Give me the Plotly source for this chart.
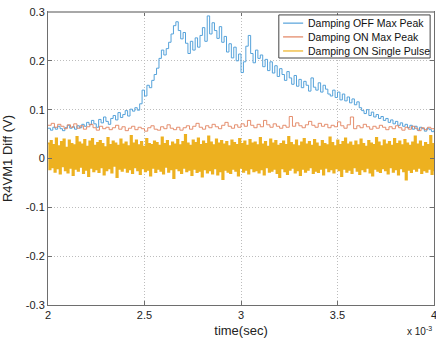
import numpy as np
import plotly.graph_objects as go

# time axis in units of 1e-3 s
t_start, t_end = 2.0, 4.0

damping_off_max_peak = [
    0.062,0.058,0.064,0.060,0.066,0.061,0.057,0.063,0.068,0.062,0.065,0.060,0.067,0.063,
    0.070,0.066,0.074,0.069,0.078,0.071,0.064,0.080,0.073,0.085,0.076,0.070,0.082,
    0.088,0.079,0.094,0.084,0.090,0.098,0.087,0.101,
    0.097,0.104,0.099,0.112,
    0.140,0.128,0.150,0.145,
    0.160,0.172,0.185,
    0.205,0.222,0.212,0.225,
    0.238,0.255,0.272,0.280,
    0.262,0.245,0.258,0.236,0.215,0.240,0.222,0.247,0.228,0.252,
    0.268,0.240,0.292,0.255,0.278,0.262,0.246,0.270,0.238,0.250,
    0.218,0.235,0.206,0.228,0.200,0.214,0.176,
    0.198,0.230,0.252,0.215,0.196,0.222,0.205,0.212,
    0.188,0.203,0.180,0.198,0.175,0.190,0.168,0.184,0.172,0.160,0.178,0.165,
    0.152,0.170,0.148,0.162,0.145,0.158,0.150,0.138,0.165,0.146,0.140,0.155,0.136,0.150,0.142,0.132,0.128,
    0.140,0.125,0.136,0.120,0.132,0.118,0.126,0.114,0.122,0.110,0.116,0.104,
    0.098,0.092,0.100,0.088,0.095,0.085,0.090,0.082,0.086,
    0.078,0.082,0.074,0.079,0.071,0.076,0.068,0.073,0.066,0.070,0.063,0.068,0.060,0.066,0.058,0.064,0.061,0.056,0.062,0.059,0.055,0.058,
]

damping_on_max_peak = [
    0.068,0.072,0.064,0.070,0.066,0.061,0.069,0.064,0.071,0.062,0.067,0.060,0.065,0.070,0.063,0.058,0.066,0.061,0.064,0.059,
    0.063,0.068,0.060,0.065,0.057,0.062,0.066,0.059,0.064,0.061,0.056,0.063,0.067,0.060,0.058,0.065,0.061,0.069,0.062,0.059,
    0.064,0.058,0.063,0.067,0.060,0.066,0.072,0.064,0.060,0.067,0.063,0.070,0.065,0.061,0.068,0.074,0.066,0.062,0.069,0.064,
    0.071,0.066,0.078,0.068,0.063,0.070,0.065,0.078,0.069,0.064,0.071,0.066,0.062,0.068,0.064,0.086,0.066,0.073,0.067,0.063,
    0.069,0.076,0.068,0.064,0.072,0.066,0.070,0.063,0.068,0.065,0.075,0.067,0.062,0.069,0.085,0.061,0.067,0.063,0.070,0.065,
    0.060,0.066,0.062,0.068,0.064,0.059,0.065,0.061,0.067,0.063,0.058,0.064,0.060,0.066,0.062,0.057,0.063,0.059,0.064,0.061,0.060,
]

damping_on_single_pulse = [
    0.031,-0.022,0.036,-0.018,0.028,-0.027,0.041,-0.020,0.025,-0.031,0.034,-0.016,0.039,-0.024,0.022,-0.029,0.037,-0.019,0.030,-0.034,
    0.027,-0.021,0.044,-0.025,0.033,-0.017,0.029,-0.030,0.038,-0.023,0.024,-0.036,0.035,-0.019,0.040,-0.026,0.026,-0.022,0.032,-0.028,
    0.036,-0.018,0.030,-0.033,0.023,-0.024,0.042,-0.020,0.028,-0.029,0.035,-0.015,0.031,-0.038,0.026,-0.021,0.039,-0.025,0.029,-0.019,
    0.033,-0.027,0.025,-0.022,0.046,-0.030,0.031,-0.018,0.037,-0.024,0.027,-0.032,0.034,-0.020,0.024,-0.026,0.040,-0.023,0.030,-0.035,
    0.028,-0.019,0.035,-0.028,0.032,-0.021,0.026,-0.025,0.043,-0.031,0.030,-0.017,0.036,-0.027,0.025,-0.022,0.033,-0.040,0.029,-0.020,
    0.038,-0.024,0.027,-0.030,0.034,-0.019,0.048,-0.026,0.031,-0.023,0.026,-0.034,0.037,-0.021,0.032,-0.028,0.041,-0.025,0.028,-0.037,
    0.035,-0.022,0.030,-0.029,0.045,-0.024,0.033,-0.031,0.027,-0.020,0.039,-0.033,0.031,-0.026,0.036,-0.042,0.029,-0.023,0.034,-0.027,
    0.025,-0.030,0.037,-0.021,0.032,-0.025,0.028,-0.035,0.040,-0.019,0.030,-0.027,0.035,-0.023,0.026,-0.031,0.038,-0.020,0.031,-0.026,
    0.033,-0.024,0.027,-0.029,0.042,-0.022,0.029,-0.033,0.034,-0.018,0.024,-0.027,0.039,-0.025,0.031,-0.021,0.036,-0.030,0.026,-0.038,
    0.030,-0.020,0.035,-0.026,0.028,-0.032,0.044,-0.023,0.032,-0.019,0.027,-0.029,0.037,-0.024,0.025,-0.034,0.033,-0.021,0.040,-0.027,
    0.029,-0.023,0.034,-0.018,0.026,-0.030,0.038,-0.025,0.031,-0.028,0.024,-0.021,0.036,-0.033,0.030,-0.019,0.027,-0.026,0.043,-0.022,
    0.032,-0.029,0.025,-0.020,0.037,-0.024,0.028,-0.036,0.034,-0.021,0.041,-0.027,0.029,-0.023,0.033,-0.030,0.026,-0.018,0.035,-0.025,
    0.027,-0.032,0.039,-0.022,0.030,-0.026,0.024,-0.019,0.036,-0.029,0.031,-0.035,0.028,-0.021,0.042,-0.025,0.033,-0.028,0.025,-0.020,
    0.037,-0.024,0.029,-0.031,0.034,-0.018,0.026,-0.027,0.040,-0.022,0.030,-0.033,0.035,-0.020,0.027,-0.026,0.038,-0.043,0.031,-0.023,
    0.026,-0.028,0.033,-0.021,0.045,-0.025,0.029,-0.019,0.035,-0.030,0.024,-0.024,0.032,-0.027,0.028,-0.021,0.046,-0.032,0.030,-0.026,
]

series_names = ["Damping OFF Max Peak", "Damping ON Max Peak", "Damping ON Single Pulse"]
x_ticks = [2, 2.5, 3, 3.5, 4]
x_tick_labels = ["2", "2.5", "3", "3.5", "4"]
y_ticks = [-0.3, -0.2, -0.1, 0, 0.1, 0.2, 0.3]
y_tick_labels = ["-0.3", "-0.2", "-0.1", "0", "0.1", "0.2", "0.3"]

colors = ["#55a2da", "#e2825f", "#edb120"]
widths = [1.0, 0.9, 1.9]

fig = go.Figure()
all_series = [damping_off_max_peak, damping_on_max_peak, damping_on_single_pulse]
for name, ys, c, w in zip(series_names, all_series, colors, widths):
    xs = np.linspace(t_start, t_end, len(ys))
    fig.add_trace(go.Scatter(
        x=xs, y=ys, mode="lines", name=name, showlegend=False,
        line=dict(color=c, width=w, shape="hv"),
    ))

font_family = "Liberation Sans, Arial, sans-serif"
axis_common = dict(
    showline=True, mirror="ticks", linecolor="#6e6e6e", linewidth=1,
    ticks="inside", ticklen=4, tickcolor="#6e6e6e",
    showgrid=True, gridcolor="#bdbdbd", griddash="1px,2px", gridwidth=1,
    zeroline=False, automargin=False, ticklabeloverflow="allow",
    tickfont=dict(size=11, color="#222", family=font_family),
)

fig.update_layout(
    width=436, height=338,
    margin=dict(l=48, r=2, t=12, b=33),
    paper_bgcolor="white", plot_bgcolor="white",
    font=dict(family=font_family, color="#222"),
    showlegend=False,
)
fig.update_xaxes(range=[t_start, t_end], tickvals=x_ticks, ticktext=x_tick_labels,
                 title=dict(text="time(sec)", font=dict(size=13, family=font_family)),
                 **axis_common)
fig.update_yaxes(range=[-0.3, 0.3], tickvals=y_ticks, ticktext=y_tick_labels,
                 title=dict(text="R4VM1 Diff (V)", font=dict(size=13, family=font_family)),
                 **axis_common)

# thicker light top border like the reference
fig.add_shape(type="line", xref="paper", yref="paper", x0=0, x1=1, y0=1, y1=1,
              line=dict(color="#a8a8a8", width=2))

# legend box drawn inside the axes (upper right)
fig.add_shape(type="rect", xref="paper", yref="paper", x0=0.598, x1=0.990, y0=0.843, y1=0.990,
              line=dict(color="#444", width=1), fillcolor="white", layer="above")
legend_rows = [0.962, 0.915, 0.867]
for name, c, yy in zip(series_names, colors, legend_rows):
    fig.add_shape(type="line", xref="paper", yref="paper", x0=0.609, x1=0.661, y0=yy, y1=yy,
                  line=dict(color=c, width=1.2), layer="above")
    fig.add_annotation(xref="paper", yref="paper", x=0.668, y=yy, xanchor="left", yanchor="middle",
                       text=name, showarrow=False,
                       font=dict(size=10.5, family=font_family, color="#111"))

fig.add_annotation(xref="paper", yref="paper", x=1.0, y=-0.06, xanchor="right", yanchor="top",
                   text="x 10<sup>-3</sup>", showarrow=False,
                   font=dict(size=10, family=font_family, color="#222"))

fig.write_html("out.html", config={"displayModeBar": False},
               post_script="document.body.style.margin='0';")
